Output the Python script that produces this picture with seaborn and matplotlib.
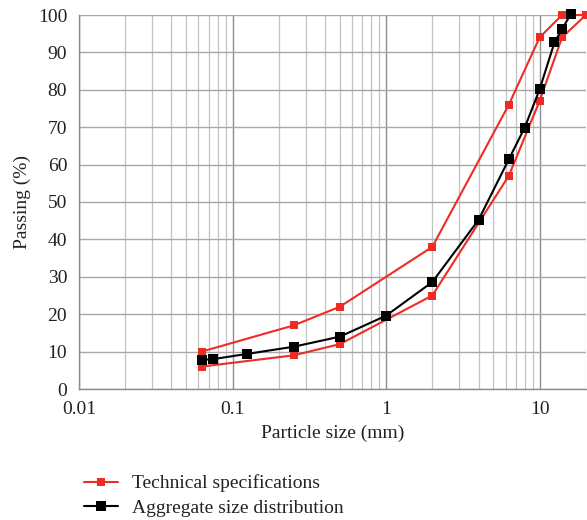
import matplotlib
matplotlib.use("Agg")
import matplotlib.pyplot as plt
import seaborn as sns
import numpy as np
import pandas as pd
from matplotlib.ticker import LogLocator, FixedLocator, NullFormatter

sns.set_theme(style="white")
plt.rcParams['font.family'] = ['Liberation Serif', 'DejaVu Serif']

# Data
spec_upper_x = [0.063, 0.25, 0.5, 2, 6.3, 10, 14, 20]
spec_upper_y = [10, 17, 22, 38, 76, 94, 100, 100]
spec_lower_x = [0.063, 0.25, 0.5, 2, 6.3, 10, 14, 20]
spec_lower_y = [6, 9, 12, 25, 57, 77, 94, 100]
agg_x = [0.063, 0.075, 0.125, 0.25, 0.5, 1, 2, 4, 6.3, 8, 10, 12.5, 14, 16]
agg_y = [7.8, 8.0, 9.4, 11.3, 14.0, 19.6, 28.6, 45.2, 61.4, 69.9, 80.1, 92.7, 96.2, 100.3]

red = "#ee2c26"
fs = 14
fig = plt.figure(figsize=(5.87, 5.2), dpi=100)
ax = fig.add_axes([79/587, 1-389/520, 1-79/587-0.002, (389-15)/520])

sns.lineplot(x=spec_upper_x, y=spec_upper_y, ax=ax, color=red, marker='s',
             markersize=5.5, markeredgewidth=0, linewidth=1.5, label="Technical specifications",
             clip_on=False, zorder=3)
sns.lineplot(x=spec_lower_x, y=spec_lower_y, ax=ax, color=red, marker='s',
             markersize=5.5, markeredgewidth=0, linewidth=1.5, clip_on=False, zorder=3)
sns.lineplot(x=agg_x, y=agg_y, ax=ax, color="black", marker='s',
             markersize=7, markeredgewidth=0, linewidth=1.5, label="Aggregate size distribution",
             clip_on=False, zorder=4)

ax.set_xscale('log')
ax.set_xlim(0.01, 20)
ax.set_ylim(0, 100)
ax.set_yticks(np.arange(0, 101, 10))
ax.xaxis.set_major_locator(FixedLocator([0.01, 0.1, 1, 10]))
ax.set_xticklabels(["0.01", "0.1", "1", "10"])
ax.xaxis.set_minor_locator(LogLocator(base=10, subs=np.arange(2, 10)))
ax.xaxis.set_minor_formatter(NullFormatter())

ax.grid(True, which='major', axis='x', color='#8e8e8e', linewidth=1.0)
ax.grid(True, which='major', axis='y', color='#a8a8a8', linewidth=1.0)
ax.grid(True, which='minor', axis='x', color='#c2c2c2', linewidth=0.9)
ax.set_axisbelow(True)

for s in ['top', 'right']:
    ax.spines[s].set_visible(False)
for s in ['left', 'bottom']:
    ax.spines[s].set_color('#8c8c8c')
    ax.spines[s].set_linewidth(1.0)

ax.tick_params(axis='both', which='major', labelsize=fs, colors='#8c8c8c',
               labelcolor='#222222', length=5, width=1.0, direction='out')
ax.tick_params(axis='x', which='minor', length=0)

ax.set_xlabel("Particle size (mm)", fontsize=fs, color='#222222', labelpad=5)
ax.set_ylabel("Passing (%)", fontsize=fs, color='#222222', labelpad=5)

ax.get_legend().remove()
h, l = ax.get_legend_handles_labels()
fig.legend(h, l, loc='upper left', bbox_to_anchor=(66/587, 1-457/520), frameon=False,
           fontsize=fs, handlelength=1.75, handletextpad=0.75, labelspacing=0.35,
           labelcolor='#222222')

fig.savefig("out.png", dpi=100)
